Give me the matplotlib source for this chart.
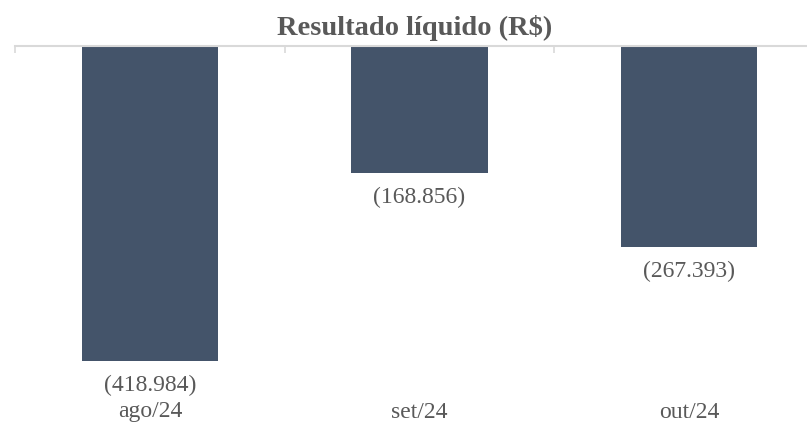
import matplotlib.pyplot as plt
import matplotlib.transforms as mtransforms

months = ["ago/24", "set/24", "out/24"]
resultado = [-418984, -168856, -267393]
labels = ["(418.984)", "(168.856)", "(267.393)"]

W, H = 807, 424
fig = plt.figure(figsize=(W / 100, H / 100), dpi=100)
plt.rcParams["font.family"] = ["Liberation Serif", "DejaVu Serif"]

top_px, bot_px = 46, 398
left_px, right_px = 15, 824
ax = fig.add_axes([left_px / W, (H - bot_px) / H,
                   (right_px - left_px) / W, (bot_px - top_px) / H])

scale = 7.52e-4  # px per unit
ax.bar(range(len(months)), resultado, width=0.505, color="#44546A")
ax.set_xlim(-0.5, len(months) - 0.5)
ax.set_ylim(-(bot_px - top_px) / scale, 0)

for s in ["left", "right", "bottom"]:
    ax.spines[s].set_visible(False)
ax.spines["top"].set_color("#d9d9d9")
ax.spines["top"].set_linewidth(1.5)
ax.set_yticks([])
ax.set_xticks([])
ax.set_xticks([i - 0.5 for i in range(len(months) + 1)], minor=True)
ax.tick_params(axis="x", which="minor", top=True, bottom=False, direction="in",
               length=5, color="#d9d9d9", width=1.2)

for i, (v, t) in enumerate(zip(resultado, labels)):
    ax.annotate(t, (i, v), xytext=(0, -17.3), textcoords="offset points",
                ha="center", va="center", fontsize=17, color="#595959")

trans = mtransforms.blended_transform_factory(ax.transData, fig.transFigure)
for i, m in enumerate(months):
    ax.text(i, (H - 412) / H, m, transform=trans, ha="center", va="center",
            fontsize=17, color="#595959", clip_on=False)

fig.text(415 / W, 1 - 28 / H, "Resultado líquido (R$)", ha="center", va="center",
         fontsize=20.5, fontweight="bold", color="#595959")

fig.savefig("out.png", dpi=100)
